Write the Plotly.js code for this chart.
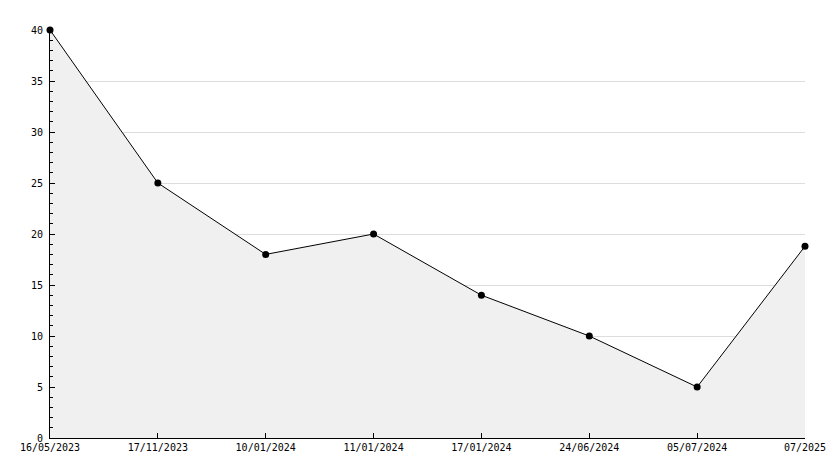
<!DOCTYPE html>
<html>
<head>
<meta charset="utf-8">
<script src="https://cdn.plot.ly/plotly-3.0.1.min.js"></script>
<style>html,body{margin:0;padding:0;background:#fff;}#chart{width:834px;height:468px;}</style>
</head>
<body>
<div id="chart"></div>
<script>
const dates = ["16/05/2023", "17/11/2023", "10/01/2024", "11/01/2024", "17/01/2024", "24/06/2024", "05/07/2024", "07/2025"];
const values = [40, 25, 18, 20, 14, 10, 5, 18.8];

const trace = {
  x: dates,
  y: values,
  type: 'scatter',
  mode: 'lines+markers',
  fill: 'tozeroy',
  fillcolor: '#f0f0f0',
  line: {color: '#000000', width: 1},
  marker: {color: '#000000', size: 7, symbol: 'circle'},
  cliponaxis: false,
  hoverinfo: 'x+y'
};

const layout = {
  width: 834,
  height: 468,
  margin: {l: 50, r: 29, t: 30, b: 30},
  paper_bgcolor: '#ffffff',
  plot_bgcolor: '#ffffff',
  showlegend: false,
  font: {family: 'DejaVu Sans Mono, monospace', size: 10, color: '#000000'},
  xaxis: {
    type: 'category',
    range: [0, dates.length - 1],
    showgrid: false,
    zeroline: false,
    showline: true,
    linecolor: '#000000',
    linewidth: 1,
    ticks: 'inside',
    ticklen: 5,
    tickcolor: '#000000',
    tickfont: {family: 'DejaVu Sans Mono, monospace', size: 10, color: '#000000'}
  },
  yaxis: {
    range: [0, 40],
    dtick: 5,
    tick0: 0,
    showgrid: true,
    gridcolor: '#dddddd',
    gridwidth: 1,
    zeroline: false,
    showline: true,
    linecolor: '#000000',
    linewidth: 1,
    ticks: 'inside',
    ticklen: 5,
    tickcolor: '#000000',
    ticklabelstandoff: 4,
    tickfont: {family: 'DejaVu Sans Mono, monospace', size: 10, color: '#000000'},
    minor: {ticks: 'inside', dtick: 1, ticklen: 3, tickcolor: '#000000', showgrid: false}
  }
};

Plotly.newPlot('chart', [trace], layout, {displayModeBar: false, staticPlot: true});
</script>
</body>
</html>
